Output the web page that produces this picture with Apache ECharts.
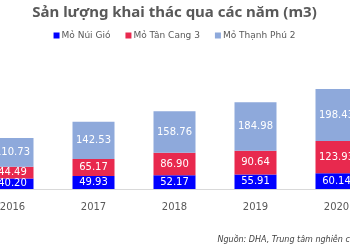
<!DOCTYPE html>
<html><head><meta charset="utf-8">
<script src="https://cdn.jsdelivr.net/npm/echarts@6/dist/echarts.min.js"></script>
<style>html,body{margin:0;padding:0;background:#fff;overflow:hidden;width:350px;height:250px;position:relative}#c{position:absolute;left:-28.5px;top:0;width:405px;height:250px}</style>
</head><body><div id="c"></div>
<script>
const categories = ['2016', '2017', '2018', '2019', '2020'];
const nuiGio = [40.20, 49.93, 52.17, 55.91, 60.14];
const tanCang = [44.49, 65.17, 86.90, 90.64, 123.93];
const thanhPhu = [110.73, 142.53, 158.76, 184.98, 198.43];
const seriesNames = ['Mỏ Núi Gió', 'Mỏ Tân Cang 3', 'Mỏ Thạnh Phú 2'];
const colors = ['#0000FF', '#E8294E', '#8EA9DB'];

const chart = echarts.init(document.getElementById('c'));
const lbl = {show: true, position: 'inside', color: '#fff', fontSize: 10, fontFamily: 'DejaVu Sans', formatter: p => p.value.toFixed(2)};
const data = [nuiGio, tanCang, thanhPhu];
chart.setOption({
  animation: false,
  title: {text: 'Sản lượng khai thác qua các năm (m3)', left: 'center', top: 0,
    textStyle: {fontSize: 15, fontWeight: 'bold', color: '#595959', fontFamily: 'Noto Sans'}},
  legend: {top: 26, left: 'center', itemWidth: 6, itemHeight: 6, itemGap: 15,
    icon: 'rect', textStyle: {fontSize: 9, color: '#595959', fontFamily: 'DejaVu Sans', padding: [0,0,0,-3]},
    data: seriesNames},
  graphic: [{type: 'text', left: 245.5, top: 236,
    style: {text: 'Nguồn: DHA, Trung tâm nghiên cứu BSC', fontSize: 8, fontStyle: 'italic', fill: '#404040', fontFamily: 'DejaVu Sans'}}],
  grid: {left: 0, right: 0, top: 71.4, bottom: 61},
  xAxis: {type: 'category', data: categories,
    axisLine: {lineStyle: {color: '#D9D9D9'}}, axisTick: {show: false},
    axisLabel: {color: '#595959', fontSize: 10, margin: 13, fontFamily: 'DejaVu Sans'}},
  yAxis: {type: 'value', min: 0, max: 450, show: false, splitLine: {show: false}},
  series: seriesNames.map((n, i) => ({
    name: n, type: 'bar', stack: 's', barWidth: 42, data: data[i],
    itemStyle: {color: colors[i]}, label: lbl
  }))
});
</script></body></html>
